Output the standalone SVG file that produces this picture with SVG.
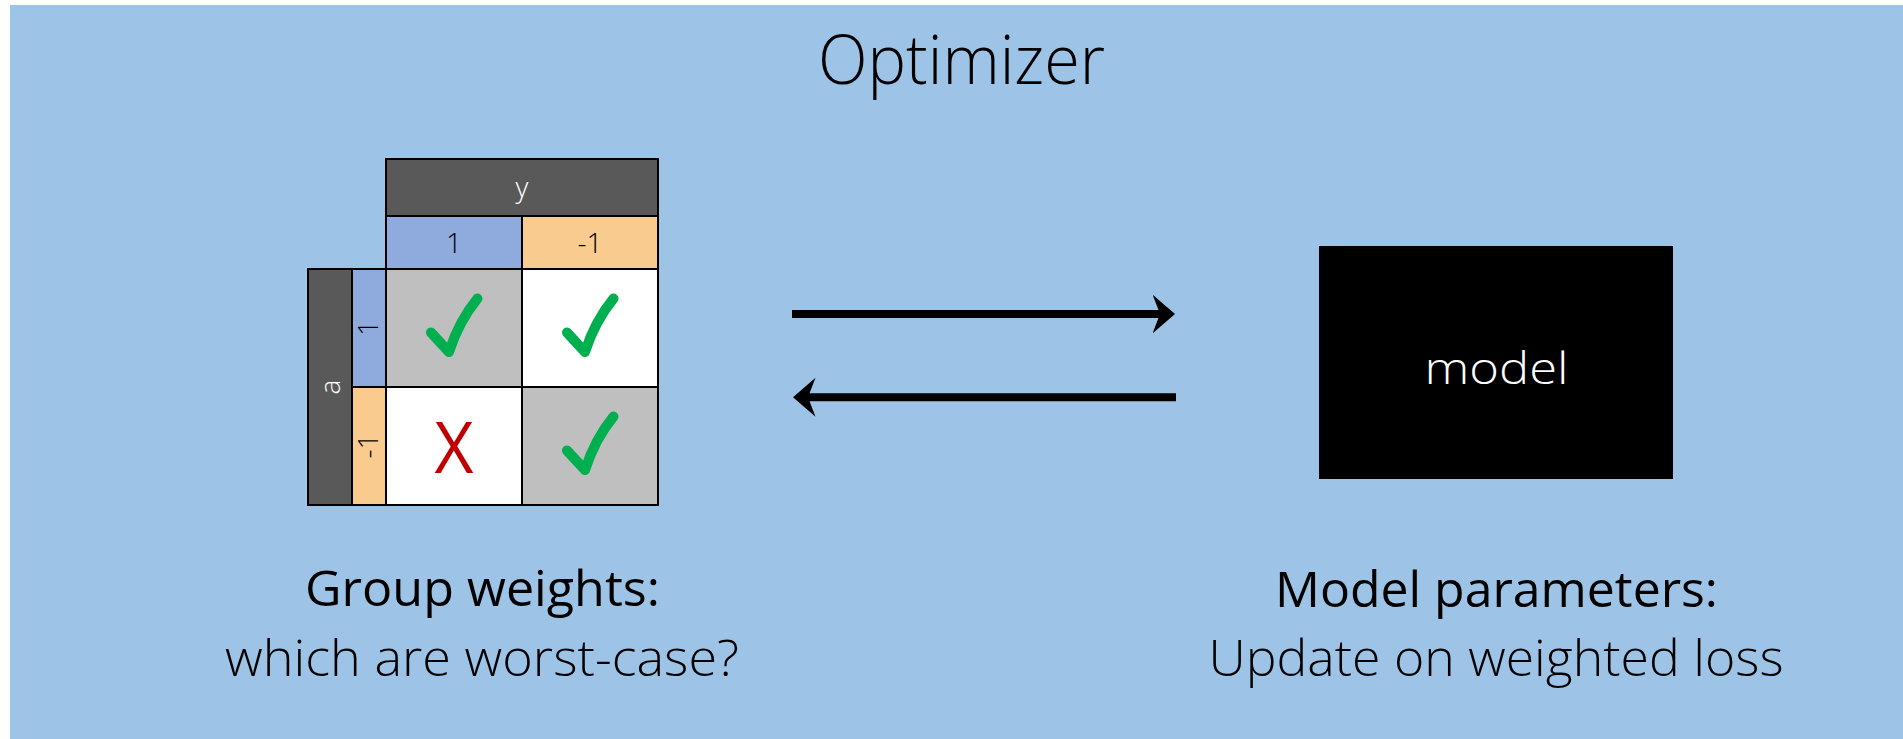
<svg xmlns="http://www.w3.org/2000/svg" width="1903" height="739" viewBox="0 0 1903 739">
  <style>
    .light { font-family: "Open Sans", "Liberation Sans", sans-serif; font-weight: 300; }
    .reg { font-family: "Open Sans", "Liberation Sans", sans-serif; font-weight: 400; }
    .cell { stroke: #000; stroke-width: 2; }
    .dark { fill: #595959; }
    .blue { fill: #8FAADC; }
    .orange { fill: #F9CB8F; }
    .grey { fill: #BFBFBF; }
    .white { fill: #FFFFFF; }
    .check { fill: none; stroke: #00B050; stroke-width: 10; stroke-linecap: round; stroke-linejoin: round; }
    .conn { stroke: #000; stroke-width: 8; fill: none; }
  </style>
  <defs>
    <marker id="arrowhead" markerUnits="userSpaceOnUse" markerWidth="24" markerHeight="40"
            viewBox="0 -20 24 40" refX="7.5" refY="0" orient="auto">
      <path d="M0,-19.5 L22.5,0 L0,19.5 L7.5,0 Z" fill="#000"/>
    </marker>
    <!-- tick mark drawn relative to the top-left corner of a table cell -->
    <path id="tick" class="check" d="M45,63.5 L63,83 Q73,52 91.5,29.5"/>
  </defs>

  <!-- page background -->
  <rect x="0" y="0" width="1903" height="739" fill="#FFFFFF"/>

  <g id="optimizer">
    <rect x="10" y="5" width="1893" height="734" fill="#9DC3E6"/>
    <text class="light" x="961.5" y="84" font-size="68" text-anchor="middle" textLength="287" lengthAdjust="spacingAndGlyphs">Optimizer</text>
  </g>

  <g id="group-weights-table">
    <!-- column header: y -->
    <rect class="cell dark" x="386" y="159" width="272" height="57"/>
    <text class="light" x="522" y="197" font-size="28" fill="#FFFFFF" text-anchor="middle">y</text>
    <rect class="cell blue" x="386" y="216" width="136" height="53"/>
    <rect class="cell orange" x="522" y="216" width="136" height="53"/>
    <text class="light" x="454" y="253" font-size="28" fill="#000" text-anchor="middle">1</text>
    <text class="light" x="590" y="253" font-size="28" fill="#000" text-anchor="middle">-1</text>

    <!-- row header: a -->
    <rect class="cell dark" x="308" y="269" width="44" height="236"/>
    <text class="light" transform="translate(340,387) rotate(-90)" font-size="28" fill="#FFFFFF" text-anchor="middle">a</text>
    <rect class="cell blue" x="352" y="269" width="34" height="118"/>
    <rect class="cell orange" x="352" y="387" width="34" height="118"/>
    <text class="light" transform="translate(378,328) rotate(-90)" font-size="28" fill="#000" text-anchor="middle">1</text>
    <text class="light" transform="translate(378,446) rotate(-90)" font-size="28" fill="#000" text-anchor="middle">-1</text>

    <!-- group cells -->
    <rect class="cell grey" x="386" y="269" width="136" height="118"/>
    <rect class="cell white" x="522" y="269" width="136" height="118"/>
    <rect class="cell white" x="386" y="387" width="136" height="118"/>
    <rect class="cell grey" x="522" y="387" width="136" height="118"/>

    <use href="#tick" x="386" y="269"/>
    <use href="#tick" x="522" y="269"/>
    <use href="#tick" x="522" y="387"/>
    <text class="reg" x="454" y="473" font-size="72" fill="#C00000" text-anchor="middle" textLength="39" lengthAdjust="spacingAndGlyphs">X</text>
  </g>

  <g id="model">
    <rect x="1319" y="246" width="354" height="233" fill="#000"/>
    <text class="light" x="1496.5" y="384" font-size="45" fill="#FFFFFF" text-anchor="middle" textLength="144" lengthAdjust="spacingAndGlyphs">model</text>
  </g>

  <g id="connectors">
    <line class="conn" x1="792" y1="314" x2="1160" y2="314" marker-end="url(#arrowhead)"/>
    <line class="conn" x1="1176" y1="397.3" x2="808" y2="397.3" marker-end="url(#arrowhead)"/>
  </g>

  <g id="group-weights-label">
    <text class="reg" x="482.5" y="606" font-size="50" fill="#000" text-anchor="middle" textLength="355" lengthAdjust="spacingAndGlyphs">Group weights:</text>
    <text class="light" x="482" y="676" font-size="50" fill="#000" text-anchor="middle" textLength="514" lengthAdjust="spacingAndGlyphs">which are worst-case?</text>
  </g>

  <g id="model-parameters-label">
    <text class="reg" x="1496.5" y="607" font-size="50" fill="#000" text-anchor="middle" textLength="443" lengthAdjust="spacingAndGlyphs">Model parameters:</text>
    <text class="light" x="1496" y="676" font-size="50" fill="#000" text-anchor="middle" textLength="575" lengthAdjust="spacingAndGlyphs">Update on weighted loss</text>
  </g>
</svg>
